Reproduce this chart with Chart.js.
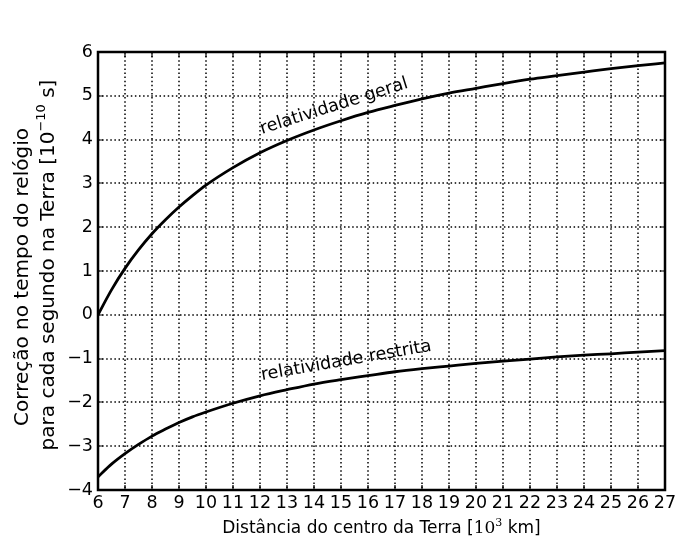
<!DOCTYPE html>
<html>
<head>
<meta charset="utf-8">
<script src="https://cdn.jsdelivr.net/npm/chart.js@4.4.1/dist/chart.umd.min.js"></script>
<style>
html,body{margin:0;padding:0;background:#fff;}
#wrap{width:685px;height:545px;}
</style>
</head>
<body>
<div id="wrap"><canvas id="c" width="685" height="545"></canvas></div>
<script>
// Data
const distances = [6, 6.5, 7, 7.5, 8, 8.5, 9, 9.5, 10, 11, 12, 13, 14, 15, 16, 17, 18, 19, 20, 21, 22, 23, 24, 25, 26, 27];
const relatividadeGeral = [0.00, 0.57, 1.06, 1.48, 1.85, 2.17, 2.46, 2.72, 2.96, 3.36, 3.70, 3.98, 4.22, 4.43, 4.62, 4.78, 4.93, 5.06, 5.17, 5.28, 5.38, 5.46, 5.54, 5.62, 5.69, 5.75];
const relatividadeRestrita = [-3.70, -3.41, -3.17, -2.96, -2.77, -2.61, -2.46, -2.33, -2.22, -2.02, -1.85, -1.71, -1.58, -1.48, -1.39, -1.30, -1.23, -1.17, -1.11, -1.06, -1.01, -0.96, -0.92, -0.89, -0.85, -0.82];
const xTickRange = [6, 27];
const yTickRange = [-4, 6];
const yTitleLines = ["Correção no tempo do relógio", "para cada segundo na Terra [10", "−10", " s]"];
const xTitleParts = ["Distância do centro da Terra [", "10", "3", " km]"];
const curveLabels = ["relatividade geral", "relatividade restrita"];

const FONT = "'DejaVu Sans', sans-serif";

const toPts = (ys) => distances.map((x, i) => ({x: x, y: ys[i]}));

const gridPlugin = {
  id: 'dotgrid',
  beforeDatasetsDraw(chart) {
    const ctx = chart.ctx;
    const a = chart.chartArea;
    const xs = chart.scales.x, ys = chart.scales.y;
    ctx.save();
    ctx.strokeStyle = '#000';
    ctx.lineWidth = 1.5;
    ctx.setLineDash([1.5, 2.6]);
    for (let v = xTickRange[0] + 1; v < xTickRange[1]; v++) {
      const px = Math.round(xs.getPixelForValue(v));
      ctx.beginPath(); ctx.moveTo(px, a.top); ctx.lineTo(px, a.bottom); ctx.stroke();
    }
    for (let v = yTickRange[0] + 1; v < yTickRange[1]; v++) {
      const py = Math.round(ys.getPixelForValue(v));
      ctx.beginPath(); ctx.moveTo(a.left, py); ctx.lineTo(a.right, py); ctx.stroke();
    }
    ctx.restore();
  }
};

const framePlugin = {
  id: 'frame',
  afterDraw(chart) {
    const ctx = chart.ctx;
    const a = chart.chartArea;
    const xs = chart.scales.x, ys = chart.scales.y;
    ctx.save();
    ctx.strokeStyle = '#000';
    ctx.lineWidth = 1.2;
    ctx.setLineDash([]);
    const tl = 5;
    for (let v = xTickRange[0]; v <= xTickRange[1]; v++) {
      const px = Math.round(xs.getPixelForValue(v));
      ctx.beginPath();
      ctx.moveTo(px, a.bottom); ctx.lineTo(px, a.bottom - tl);
      ctx.moveTo(px, a.top); ctx.lineTo(px, a.top + tl);
      ctx.stroke();
    }
    for (let v = yTickRange[0]; v <= yTickRange[1]; v++) {
      const py = Math.round(ys.getPixelForValue(v));
      ctx.beginPath();
      ctx.moveTo(a.left, py); ctx.lineTo(a.left + tl, py);
      ctx.moveTo(a.right, py); ctx.lineTo(a.right - tl, py);
      ctx.stroke();
    }
    ctx.lineWidth = 2.5;
    ctx.strokeRect(a.left, a.top, a.right - a.left, a.bottom - a.top);

    // curve labels
    ctx.fillStyle = '#000';
    ctx.font = '17.5px ' + FONT;
    ctx.textAlign = 'left';
    ctx.textBaseline = 'alphabetic';
    ctx.save();
    ctx.translate(xs.getPixelForValue(12.07), ys.getPixelForValue(4.13));
    ctx.rotate(-17.5 * Math.PI / 180);
    ctx.fillText(curveLabels[0], 0, 0);
    ctx.restore();
    ctx.save();
    ctx.translate(xs.getPixelForValue(12.07), ys.getPixelForValue(-1.49));
    ctx.rotate(-9.8 * Math.PI / 180);
    ctx.fillText(curveLabels[1], 0, 0);
    ctx.restore();

    // x title
    const xf = '17px ' + FONT;
    const xsf = '17px "DejaVu Serif", serif';
    const xsup = '11px "DejaVu Serif", serif';
    ctx.font = xf; const w0 = ctx.measureText(xTitleParts[0]).width;
    ctx.font = xsf; const w1 = ctx.measureText(xTitleParts[1]).width;
    ctx.font = xsup; const w2 = ctx.measureText(xTitleParts[2]).width;
    ctx.font = xf; const w3 = ctx.measureText(xTitleParts[3]).width;
    const tot = w0 + w1 + w2 + w3;
    let cx = (a.left + a.right) / 2 - tot / 2;
    const by = 533;
    ctx.font = xf; ctx.fillText(xTitleParts[0], cx, by); cx += w0;
    ctx.font = xsf; ctx.fillText(xTitleParts[1], cx, by); cx += w1;
    ctx.font = xsup; ctx.fillText(xTitleParts[2], cx, by - 7); cx += w2;
    ctx.font = xf; ctx.fillText(xTitleParts[3], cx, by);

    // y title
    const yf = '20px ' + FONT;
    const ysup = '13px ' + FONT;
    ctx.save();
    ctx.translate(28, 277);
    ctx.rotate(-Math.PI / 2);
    ctx.font = yf;
    ctx.textAlign = 'center';
    ctx.fillText(yTitleLines[0], 0, 0);
    ctx.restore();

    ctx.save();
    ctx.translate(54, 265);
    ctx.rotate(-Math.PI / 2);
    ctx.textAlign = 'left';
    ctx.font = yf; const u0 = ctx.measureText(yTitleLines[1]).width;
    ctx.font = ysup; const u1 = ctx.measureText(yTitleLines[2]).width;
    ctx.font = yf; const u2 = ctx.measureText(yTitleLines[3]).width;
    let px = -(u0 + u1 + u2) / 2;
    ctx.font = yf; ctx.fillText(yTitleLines[1], px, 0); px += u0;
    ctx.font = ysup; ctx.fillText(yTitleLines[2], px, -9); px += u1;
    ctx.font = yf; ctx.fillText(yTitleLines[3], px, 0);
    ctx.restore();

    ctx.restore();
  }
};

const minusFmt = (v) => v < 0 ? '\u2212' + Math.abs(v) : String(v);

new Chart(document.getElementById('c'), {
  type: 'line',
  data: {
    datasets: [
      {label: curveLabels[0], data: toPts(relatividadeGeral), borderColor: '#000', borderWidth: 2.8, pointRadius: 0, cubicInterpolationMode: 'monotone', fill: false},
      {label: curveLabels[1], data: toPts(relatividadeRestrita), borderColor: '#000', borderWidth: 2.8, pointRadius: 0, cubicInterpolationMode: 'monotone', fill: false}
    ]
  },
  options: {
    responsive: false,
    animation: false,
    devicePixelRatio: 1,
    layout: {padding: {left: 0, top: 52, right: 20, bottom: 0}},
    plugins: {legend: {display: false}, tooltip: {enabled: false}},
    scales: {
      x: {
        type: 'linear', min: xTickRange[0], max: xTickRange[1],
        afterFit: (s) => { s.height = 55; },
        ticks: {stepSize: 1, autoSkip: false, maxRotation: 0, color: '#000', font: {family: FONT, size: 17.5}, padding: 3, callback: minusFmt},
        grid: {display: false, drawTicks: false},
        border: {display: false}
      },
      y: {
        type: 'linear', min: yTickRange[0], max: yTickRange[1],
        afterFit: (s) => { s.width = 98; },
        ticks: {stepSize: 1, autoSkip: false, color: '#000', font: {family: FONT, size: 17.5}, padding: 5, callback: minusFmt},
        grid: {display: false, drawTicks: false},
        border: {display: false}
      }
    }
  },
  plugins: [gridPlugin, framePlugin]
});
</script>
</body>
</html>
